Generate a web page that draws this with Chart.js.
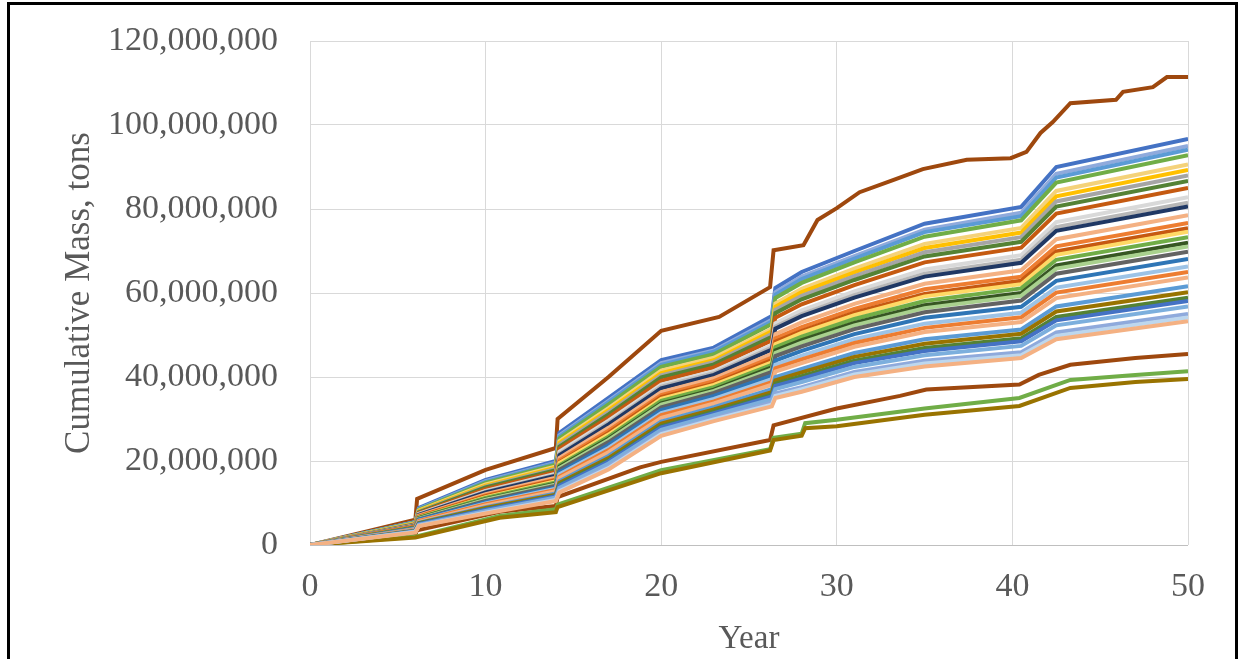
<!DOCTYPE html>
<html>
<head>
<meta charset="utf-8">
<script src="https://cdn.jsdelivr.net/npm/chart.js@4"></script>
<style>
    body { margin: 0; background: #fff; overflow: hidden; }
    #frame {
        position: absolute; left: 7px; top: 2px; width: 1231px; height: 720px;
        box-sizing: border-box; border: 3px solid #000; border-bottom: none;
    }
    #chart { position: absolute; left: 0; top: 0; }
</style>
</head>
<body>
<div id="frame"></div>
<canvas id="chart" width="1243" height="659"></canvas>
<script>
// all masses in millions of tons
const xTicks = [0, 10, 20, 30, 40, 50]
const yTicks = [0, 20, 40, 60, 80, 100, 120]

// years shared by the runs inside the main band
const bandYears = [0, 6, 6.2, 10, 14, 14.2, 17, 20, 23, 26.3, 26.5, 28, 31, 35, 40.5, 42.5, 50]

const run01 = [0, 5.5, 8.8, 15.5, 20.0, 26.7, 35.0, 44.0, 47.0, 54.5, 61.2, 65.0, 70.0, 76.5, 80.5, 90.0, 96.7]
const run02 = [0, 5.4, 8.6, 15.2, 19.6, 26.1, 34.3, 43.3, 46.3, 53.6, 60.2, 63.9, 68.8, 75.1, 79.1, 88.4, 95.0]
const run03 = [0, 5.4, 8.5, 15.0, 19.4, 25.8, 34.0, 42.9, 46.0, 53.2, 59.6, 63.3, 68.2, 74.5, 78.3, 87.5, 94.1]
const run04 = [0, 5.3, 8.4, 14.8, 19.1, 25.4, 33.5, 42.4, 45.4, 52.6, 58.8, 62.4, 67.3, 73.4, 77.3, 86.3, 92.8]
const run05 = [0, 5.2, 8.2, 14.4, 18.7, 24.7, 32.6, 41.5, 44.6, 51.5, 57.5, 61.0, 65.8, 71.7, 75.5, 84.3, 90.6]
const run06 = [0, 5.1, 8.1, 14.1, 18.4, 24.3, 32.1, 40.9, 44.0, 50.9, 56.7, 60.2, 64.9, 70.7, 74.4, 83.0, 89.3]
const run07 = [0, 5.0, 7.9, 13.9, 18.1, 23.9, 31.6, 40.4, 43.5, 50.2, 56.0, 59.3, 64.0, 69.7, 73.3, 81.8, 88.0]
const run08 = [0, 4.9, 7.8, 13.7, 17.8, 23.4, 31.1, 39.9, 43.0, 49.6, 55.2, 58.5, 63.1, 68.7, 72.2, 80.6, 86.7]
const run09 = [0, 4.8, 7.6, 13.3, 17.4, 22.9, 30.4, 39.1, 42.3, 48.7, 54.1, 57.3, 61.9, 67.3, 70.8, 78.9, 85.0]
const run10 = [0, 4.7, 7.4, 12.9, 17.0, 22.2, 29.6, 38.2, 41.4, 47.6, 52.8, 55.9, 60.4, 65.6, 69.0, 76.9, 82.8]
const run11 = [0, 4.6, 7.3, 12.7, 16.7, 21.7, 29.1, 37.7, 40.9, 47.0, 52.0, 55.0, 59.5, 64.6, 67.9, 75.7, 81.5]
const run12 = [0, 4.6, 7.2, 12.5, 16.5, 21.4, 28.7, 37.3, 40.5, 46.5, 51.5, 54.5, 58.9, 63.9, 67.2, 74.8, 80.6]
const run13 = [0, 4.5, 7.0, 12.1, 16.0, 20.7, 27.9, 36.4, 39.7, 45.5, 50.2, 53.0, 57.4, 62.2, 65.4, 72.8, 78.5]
const run14 = [0, 4.4, 6.8, 11.8, 15.6, 20.2, 27.2, 35.7, 39.0, 44.6, 49.2, 51.9, 56.2, 60.9, 63.9, 71.1, 76.7]
const run15 = [0, 4.3, 6.7, 11.6, 15.4, 19.7, 26.7, 35.2, 38.4, 44.0, 48.4, 51.0, 55.3, 59.8, 62.9, 69.9, 75.4]
const run16 = [0, 4.2, 6.6, 11.4, 15.2, 19.5, 26.3, 34.8, 38.1, 43.5, 47.8, 50.5, 54.7, 59.2, 62.1, 69.1, 74.6]
const run17 = [0, 4.2, 6.5, 11.2, 14.9, 19.0, 25.8, 34.3, 37.6, 42.9, 47.1, 49.6, 53.8, 58.1, 61.1, 67.9, 73.3]
const run18 = [0, 4.1, 6.4, 10.9, 14.6, 18.6, 25.3, 33.7, 37.0, 42.3, 46.3, 48.8, 52.9, 57.1, 60.0, 66.6, 72.0]
const run19 = [0, 4.0, 6.3, 10.8, 14.4, 18.3, 25.0, 33.4, 36.7, 41.8, 45.7, 48.2, 52.3, 56.4, 59.3, 65.8, 71.1]
const run20 = [0, 4.0, 6.1, 10.5, 14.1, 17.9, 24.5, 32.8, 36.2, 41.2, 45.0, 47.3, 51.4, 55.4, 58.2, 64.6, 69.8]
const run21 = [0, 3.9, 6.0, 10.2, 13.7, 17.3, 23.8, 32.1, 35.5, 40.3, 43.9, 46.2, 50.2, 54.1, 56.7, 62.9, 68.1]
const run22 = [0, 3.8, 5.8, 9.9, 13.4, 16.8, 23.1, 31.4, 34.8, 39.5, 42.9, 45.1, 49.0, 52.7, 55.3, 61.3, 66.3]
const run23 = [0, 3.7, 5.7, 9.7, 13.1, 16.3, 22.6, 30.9, 34.2, 38.8, 42.1, 44.2, 48.1, 51.7, 54.2, 60.1, 65.0]
const run24 = [0, 3.6, 5.5, 9.4, 12.8, 15.9, 22.1, 30.3, 33.7, 38.2, 41.3, 43.3, 47.2, 50.7, 53.1, 58.8, 63.7]
const run25 = [0, 3.5, 5.3, 9.0, 12.3, 15.2, 21.2, 29.4, 32.8, 37.1, 40.0, 41.9, 45.7, 49.0, 51.3, 56.8, 61.6]
const run26 = [0, 3.4, 5.2, 8.8, 12.0, 14.8, 20.7, 28.9, 32.3, 36.4, 39.2, 41.1, 44.8, 47.9, 50.3, 55.6, 60.2]
const run27 = [0, 3.3, 5.1, 8.5, 11.7, 14.4, 20.2, 28.3, 31.8, 35.8, 38.4, 40.2, 43.9, 46.9, 49.2, 54.3, 58.9]
const run28 = [0, 3.3, 5.0, 8.4, 11.6, 14.1, 19.9, 28.0, 31.4, 35.4, 37.9, 39.6, 43.3, 46.2, 48.5, 53.5, 58.1]
const run29 = [0, 3.2, 4.8, 8.1, 11.3, 13.6, 19.4, 27.4, 30.9, 34.7, 37.1, 38.8, 42.4, 45.2, 47.4, 52.3, 56.8]
const run30 = [0, 3.1, 4.7, 7.8, 10.9, 13.1, 18.7, 26.7, 30.2, 33.9, 36.1, 37.6, 41.2, 43.9, 45.9, 50.6, 55.0]
const run31 = [0, 3.1, 4.6, 7.7, 10.7, 12.8, 18.3, 26.4, 29.9, 33.4, 35.5, 37.1, 40.6, 43.2, 45.2, 49.8, 54.2]
const run32 = [0, 3.0, 4.5, 7.5, 10.5, 12.5, 18.0, 26.0, 29.5, 33.0, 35.0, 36.5, 40.0, 42.5, 44.5, 49.0, 53.3]

const bandRuns = [run01, run02, run03, run04, run05, run06, run07, run08, run09, run10,
    run11, run12, run13, run14, run15, run16, run17, run18, run19, run20,
    run21, run22, run23, run24, run25, run26, run27, run28, run29, run30, run31, run32]

const bandColors = ['#4472C4', '#8FAADC', '#5B9BD5', '#70AD47', '#F4D27A', '#FFC000', '#A5A5A5', '#548235',
    '#C55A11', '#D9D9D9', '#B7B7B7', '#203864', '#F4B183', '#ED7D31', '#C65911', '#FFD966',
    '#70AD47', '#375623', '#A9D18E', '#636363', '#2E75B6', '#9DC3E6', '#ED7D31', '#F4B183',
    '#5B9BD5', '#997300', '#548235', '#4472C4', '#7CAFDD', '#8FAADC', '#BDD7EE', '#F4B183']

// the four runs outside the band
const highYears = [0, 3, 6, 6.1, 10, 14, 14.1, 17, 20, 23.3, 26.2, 26.4, 28.1, 28.9, 30, 31.3, 33.2, 34.9, 37.4, 39.9, 40.8, 41.6, 42.3, 43.3, 45.9, 46.3, 48, 48.8, 50]
const highRun = [0, 3, 6, 11, 17.9, 23.1, 30, 40, 51, 54.3, 61.4, 70.2, 71.4, 77.4, 80.2, 84, 86.9, 89.5, 91.7, 92.1, 93.6, 98.1, 100.7, 105.2, 106, 107.9, 109, 111.4, 111.4]

const lowYears = [0, 6, 6.1, 10.8, 14, 14.1, 18.8, 20, 26.2, 26.4, 30, 33.6, 35.1, 40.4, 41.5, 43.3, 47, 50]
const lowRun = [0, 2.5, 3.5, 7.9, 9.3, 11.4, 18.5, 19.8, 25, 28.5, 32.5, 35.5, 37, 38.2, 40.5, 42.9, 44.5, 45.5]

const lowestYears = [0, 6, 10.8, 14, 14.1, 20, 26.2, 26.4, 28, 28.2, 30, 35, 40.4, 43.3, 47, 50]
const greenRun = [0, 2, 6.9, 8.5, 9.6, 17.8, 22.8, 25.5, 26.5, 29, 29.8, 32.5, 35, 39.3, 40.5, 41.4]
const oliveRun = [0, 1.8, 6.5, 7.8, 9, 17.1, 22.5, 25, 26, 27.8, 28.3, 31, 33.1, 37.4, 38.8, 39.5]

function toPoints(years, values) {
    return values.map((v, i) => ({ x: years[i], y: v * 1000000 }))
}

function lineSet(years, values, color) {
    return {
        data: toPoints(years, values),
        borderColor: color,
        borderWidth: 4,
        pointRadius: 0,
        tension: 0,
        fill: false
    }
}

let datasets = []
// bottom of the band first so the upper runs sit on top
for (let i = bandRuns.length - 1; i >= 0; i--) {
    datasets.push(lineSet(bandYears, bandRuns[i], bandColors[i]))
}
datasets.push(lineSet(lowestYears, oliveRun, '#997300'))
datasets.push(lineSet(lowestYears, greenRun, '#70AD47'))
datasets.push(lineSet(lowYears, lowRun, '#9E480E'))
datasets.push(lineSet(highYears, highRun, '#9E480E'))

const gray = '#595959'

new Chart(document.getElementById('chart'), {
    type: 'line',
    data: { datasets: datasets },
    options: {
        responsive: false,
        animation: false,
        layout: { padding: { left: 0, top: 41, right: 55, bottom: 0 } },
        plugins: { legend: { display: false }, tooltip: { enabled: false } },
        scales: {
            x: {
                type: 'linear',
                min: 0,
                max: 50,
                afterBuildTicks: (scale) => { scale.ticks = xTicks.map(v => ({ value: v })) },
                afterFit: (scale) => { scale.height = 114 },
                grid: { color: '#D9D9D9', lineWidth: 1, drawTicks: false },
                border: { display: false },
                ticks: { font: { family: 'Liberation Serif', size: 34 }, color: gray, padding: 22, maxRotation: 0 },
                title: {
                    display: true,
                    text: 'Year',
                    font: { family: 'Liberation Serif', size: 33 },
                    color: gray,
                    padding: { top: 0, bottom: 0 }
                }
            },
            y: {
                min: 0,
                max: 120000000,
                afterBuildTicks: (scale) => { scale.ticks = yTicks.map(v => ({ value: v * 1000000 })) },
                afterFit: (scale) => { scale.width = 310 },
                grid: {
                    color: (ctx) => ctx.tick && ctx.tick.value === 0 ? '#BFBFBF' : '#D9D9D9',
                    lineWidth: 1,
                    drawTicks: false
                },
                border: { display: false },
                ticks: {
                    // small lineHeight keeps the label padding from pushing the plot down
                    font: { family: 'Liberation Serif', size: 34, lineHeight: 0.5 },
                    color: gray,
                    padding: 32,
                    callback: (v) => v.toLocaleString('en-US')
                },
                title: {
                    display: true,
                    text: 'Cumulative Mass, tons',
                    font: { family: 'Liberation Serif', size: 35 },
                    color: gray,
                    padding: { top: 59, bottom: 0 }
                }
            }
        }
    }
})
</script>
</body>
</html>
